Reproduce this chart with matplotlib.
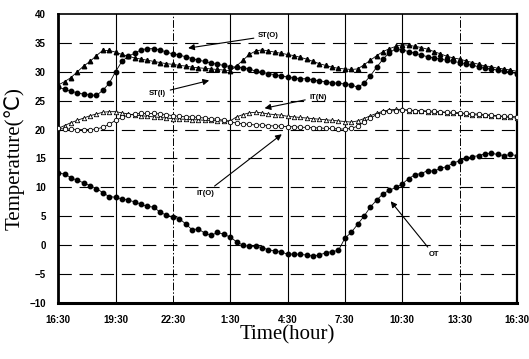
import numpy as np
import matplotlib
matplotlib.use('Agg')
import matplotlib.pyplot as plt

# 20-minute readings from 16:30 to 16:30 next day (73 samples)
hours = np.arange(73) / 3.0

st_o = [27.3, 27.0, 26.6, 26.4, 26.1, 26.0, 25.9, 26.8, 28.0, 30.0,
        31.8, 32.7, 33.2, 33.8, 34.0, 34.0, 33.8, 33.4, 33.1, 32.9,
        32.6, 32.3, 32.0, 31.8, 31.5, 31.3, 31.1, 30.9, 30.8, 30.7,
        30.5, 30.1, 29.9, 29.7, 29.5, 29.3, 29.1, 28.9, 28.8, 28.8,
        28.6, 28.4, 28.3, 28.1, 28.0, 27.9, 27.8, 27.3, 28.0, 29.3,
        30.8, 32.2, 33.3, 34.0, 33.8, 33.5, 33.2, 32.9, 32.6, 32.4,
        32.2, 32.0, 31.8, 31.6, 31.4, 31.1, 30.9, 30.7, 30.5, 30.3,
        30.1, 29.9, 29.7]

st_i = [27.7, 28.3, 29.0, 30.0, 31.0, 31.8, 32.8, 33.7, 33.7, 33.4,
        33.0, 32.7, 32.4, 32.2, 32.0, 31.8, 31.6, 31.4, 31.3, 31.1,
        31.0, 30.8, 30.7, 30.6, 30.5, 30.4, 30.3, 30.2, 31.0, 32.0,
        33.0, 33.6, 33.8, 33.6, 33.4, 33.2, 33.0, 32.8, 32.5, 32.2,
        31.8, 31.4, 31.1, 30.8, 30.6, 30.5, 30.4, 30.5, 31.2, 32.0,
        32.8, 33.5, 34.0, 34.4, 34.7, 34.6, 34.4, 34.2, 33.9, 33.5,
        33.1, 32.7, 32.4, 32.2, 31.9, 31.6, 31.3, 31.0, 30.9, 30.6,
        30.5, 30.3, 30.1]

it_n = [20.2, 20.7, 21.2, 21.6, 22.0, 22.4, 22.7, 23.0, 23.1, 23.1,
        22.9, 22.7, 22.5, 22.4, 22.3, 22.2, 22.1, 22.0, 21.9, 21.8,
        21.8, 21.7, 21.7, 21.6, 21.6, 21.5, 21.5, 21.5, 22.2, 22.6,
        22.9, 23.0, 22.9, 22.7, 22.6, 22.5, 22.3, 22.2, 22.1, 22.0,
        21.9, 21.8, 21.7, 21.6, 21.5, 21.4, 21.3, 21.5, 21.9, 22.4,
        22.8, 23.2, 23.4, 23.5, 23.5, 23.3, 23.2, 23.2, 23.1, 23.0,
        23.0, 22.9, 22.8, 22.8, 22.7, 22.6, 22.5, 22.5, 22.4, 22.3,
        22.2, 22.1, 22.0]

it_o = [20.2, 20.1, 20.1, 20.0, 20.0, 20.0, 20.1, 20.4, 20.9, 21.6,
        22.1, 22.5, 22.7, 22.8, 22.8, 22.8, 22.7, 22.6, 22.4, 22.3,
        22.2, 22.2, 22.1, 22.0, 21.9, 21.8, 21.6, 21.4, 21.1, 21.0,
        20.9, 20.8, 20.8, 20.7, 20.6, 20.6, 20.5, 20.5, 20.4, 20.4,
        20.3, 20.3, 20.2, 20.2, 20.1, 20.1, 20.2, 20.6, 21.3, 22.0,
        22.6, 23.0, 23.2, 23.3, 23.4, 23.4, 23.3, 23.3, 23.2, 23.2,
        23.1, 23.0, 23.0, 22.9, 22.8, 22.7, 22.7, 22.6, 22.5, 22.4,
        22.3, 22.3, 22.2]

ot = [12.5, 12.3, 11.7, 11.2, 10.8, 10.3, 9.8, 9.1, 8.4, 8.3,
      8.0, 7.8, 7.5, 7.1, 6.7, 6.6, 5.7, 5.2, 4.9, 4.6,
      3.7, 2.7, 2.8, 2.1, 1.7, 2.2, 1.9, 1.4, 0.6, 0.0,
      -0.2, -0.2, -0.4, -0.8, -1.0, -1.1, -1.6, -1.5, -1.6, -1.7,
      -1.9, -1.7, -1.3, -1.1, -0.9, 1.2, 2.2, 3.6, 5.0, 6.6,
      7.8, 8.9, 9.5, 10.0, 10.6, 11.5, 12.2, 12.4, 12.9, 12.8,
      13.3, 13.6, 14.2, 14.6, 15.0, 15.3, 15.5, 15.8, 15.9, 15.7,
      15.5, 15.7, 15.5]

tick_hours = [0, 3, 6, 9, 12, 15, 18, 21, 24]
tick_labels = ['16:30', '19:30', '22:30', '1:30', '4:30', '7:30', '10:30', '13:30', '16:30']
y_ticks = [-10, -5, 0, 5, 10, 15, 20, 25, 30, 35, 40]

fig = plt.figure(figsize=(5.29, 3.59), dpi=100, facecolor='w')
ax = fig.add_axes([0.110, 0.156, 0.867, 0.805])

# grid: long-dash horizontals, solid / dash-dot verticals
for yv in y_ticks[1:-1]:
    ax.axhline(yv, color='k', lw=0.8, ls=(0, (12, 7)), zorder=1)
for xv in tick_hours[1:-1]:
    if xv in (6, 21):
        ax.axvline(xv, color='k', lw=0.7, ls=(0, (8, 2, 1.5, 2)), zorder=1)
    else:
        ax.axvline(xv, color='k', lw=0.8, zorder=1)

ms = 3.2
ax.plot(hours, it_n, '-', color='k', lw=0.6, marker='^', ms=ms, mfc='w', mec='k', mew=0.6, zorder=3)
ax.plot(hours, it_o, '-', color='k', lw=0.6, marker='o', ms=ms, mfc='w', mec='k', mew=0.6, zorder=3)
ax.plot(hours, st_i, '-', color='k', lw=0.6, marker='^', ms=ms, mfc='k', mec='k', zorder=3)
ax.plot(hours, st_o, '-', color='k', lw=0.6, marker='o', ms=ms, mfc='k', mec='k', zorder=3)
ax.plot(hours, ot, '-', color='k', lw=0.6, marker='o', ms=ms, mfc='k', mec='k', zorder=3)

ax.set_xlim(0, 24)
ax.set_ylim(-10, 40)
ax.set_xticks(tick_hours)
ax.set_xticklabels(tick_labels)
ax.set_yticks(y_ticks)
ax.tick_params(length=0, labelsize=7, pad=9)
for lab in ax.get_xticklabels() + ax.get_yticklabels():
    lab.set_fontfamily('Liberation Sans')
    lab.set_fontweight('bold')

ax.spines['left'].set_linewidth(2.0)
ax.spines['bottom'].set_linewidth(2.2)
ax.spines['top'].set_linewidth(1.2)
ax.spines['right'].set_linewidth(1.6)

ax.set_xlabel('Time(hour)', fontfamily='Liberation Serif', fontsize=15, labelpad=0)
ax.set_ylabel('Temperature(\u2103)', fontfamily=['Liberation Serif', 'DejaVu Sans'], fontsize=15, labelpad=3)

# series labels with leader arrows
arrow = dict(arrowstyle='-|>', color='k', lw=0.8, mutation_scale=9, shrinkA=1, shrinkB=0)
lab_kw = dict(fontsize=5.5, fontweight='bold', fontfamily='Liberation Sans', ha='center', va='center')
ax.annotate('ST(O)', xy=(6.8, 34.1), xytext=(11.0, 36.2), arrowprops=arrow, **lab_kw)
ax.annotate('ST(I)', xy=(7.9, 28.5), xytext=(5.2, 26.3), arrowprops=arrow, **lab_kw)
ax.annotate('IT(N)', xy=(10.8, 23.7), xytext=(13.6, 25.6), arrowprops=arrow, **lab_kw)
ax.annotate('IT(O)', xy=(11.7, 19.2), xytext=(7.7, 9.0), arrowprops=arrow, **lab_kw)
ax.annotate('OT', xy=(17.4, 7.6), xytext=(19.65, -1.6), arrowprops=arrow, **lab_kw)

fig.savefig('out.png', dpi=100)
